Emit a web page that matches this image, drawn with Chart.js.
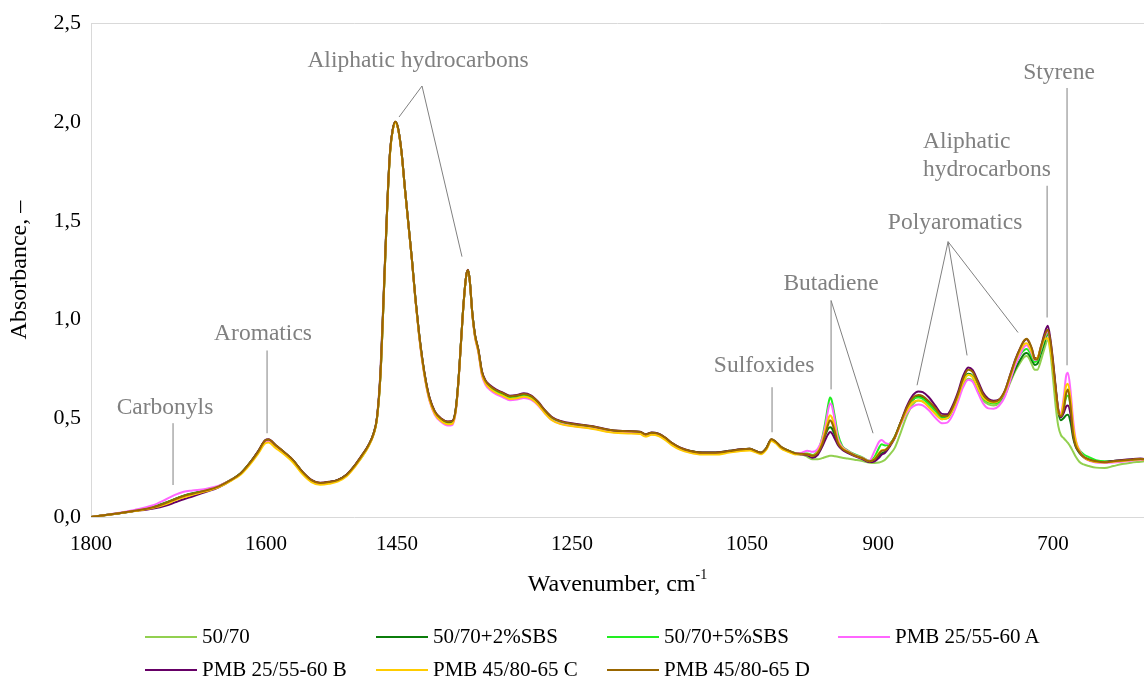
<!DOCTYPE html>
<html>
<head>
<meta charset="utf-8">
<script src="https://cdn.jsdelivr.net/npm/chart.js@4.4.0/dist/chart.umd.min.js"></script>
<style>
  html, body { margin: 0; padding: 0; background: #fff; }
  #wrap { position: relative; width: 1144px; height: 680px; font-family: "Liberation Serif", "Times New Roman", serif; color: #000; }
  #xTitle { position: absolute; left: 91px; width: 1053px; top: 569px; text-align: center; font-size: 24px; line-height: 28px; }
  #xTitle sup { font-size: 14px; line-height: 0; position: relative; top: -3px; }
  #legend { position: absolute; left: 145px; top: 620px; display: grid; grid-template-columns: repeat(4, 231px); }
  .item { display: flex; align-items: center; height: 33px; font-size: 21px; white-space: nowrap; }
  .swatch { width: 52px; height: 2px; margin-right: 5px; }
</style>
</head>
<body>
<div id="wrap">
  <canvas id="myChart" width="1144" height="680"></canvas>
  <div id="xTitle">Wavenumber, cm<sup>-1</sup></div>
  <div id="legend"></div>
</div>
<script>
// wavenumbers (cm-1), descending like the plot
const wavenumbers = [
  1800, 1775, 1750, 1730, 1714, 1704, 1694, 1684, 1669, 1654,
  1639, 1629, 1619, 1609, 1601, 1597, 1589, 1579, 1569, 1558,
  1548, 1538, 1528, 1518, 1508, 1498, 1490, 1483, 1477, 1473,
  1469, 1465, 1461, 1458, 1455, 1452, 1449, 1445, 1441, 1437,
  1433, 1429, 1425, 1421, 1417, 1413, 1407, 1400, 1392, 1387,
  1383, 1380, 1377, 1374, 1371, 1369, 1367, 1364, 1361, 1357,
  1353, 1349, 1344, 1337, 1329, 1321, 1313, 1305, 1297, 1289,
  1281, 1273, 1263, 1247, 1226, 1206, 1186, 1172, 1166, 1159,
  1151, 1144, 1136, 1126, 1116, 1101, 1086, 1070, 1057, 1047,
  1040, 1034, 1028, 1022, 1017, 1011, 1003, 995,
  987, 981, 975, 969, 964, 960, 957, 955, 953, 950,
  946, 941, 935, 927, 918, 910, 904, 899, 896, 892,
  887, 881, 874, 867, 860, 854, 849, 842, 834, 827,
  821, 815, 809, 803, 797, 792, 786, 780, 774, 768,
  762, 755, 749, 743, 737, 733, 730, 727, 724, 721,
  718, 714, 710, 706, 703, 700, 697, 694, 691, 688,
  685, 683, 680, 677, 674, 670, 665, 659, 651, 641,
  631, 621, 611, 600, 596
];

const bitumen5070 = [
  0, 0.015, 0.032, 0.048, 0.072, 0.090, 0.106, 0.118, 0.134, 0.155,
  0.190, 0.220, 0.270, 0.330, 0.385, 0.390, 0.362, 0.326, 0.286, 0.226,
  0.186, 0.171, 0.176, 0.186, 0.212, 0.262, 0.312, 0.360, 0.420, 0.500,
  0.720, 1.150, 1.600, 1.850, 1.960, 2.000, 1.970, 1.850, 1.660, 1.480,
  1.300, 1.100, 0.930, 0.790, 0.680, 0.600, 0.530, 0.495, 0.478, 0.480,
  0.540, 0.680, 0.880, 1.080, 1.220, 1.250, 1.200, 1.030, 0.920, 0.840,
  0.730, 0.685, 0.660, 0.638, 0.622, 0.606, 0.610, 0.618, 0.608, 0.578,
  0.535, 0.500, 0.480, 0.467, 0.455, 0.437, 0.431, 0.428, 0.415, 0.424,
  0.418, 0.400, 0.372, 0.347, 0.333, 0.323, 0.323, 0.332, 0.340, 0.343,
  0.332, 0.323, 0.345, 0.388, 0.376, 0.350, 0.333, 0.320,
  0.316, 0.305, 0.292, 0.292, 0.298, 0.304, 0.308, 0.310, 0.310, 0.308,
  0.305, 0.300, 0.296, 0.290, 0.283, 0.275, 0.274, 0.276, 0.280, 0.290,
  0.315, 0.350, 0.430, 0.515, 0.572, 0.590, 0.585, 0.560, 0.520, 0.495,
  0.500, 0.540, 0.600, 0.670, 0.700, 0.690, 0.640, 0.590, 0.570, 0.565,
  0.575, 0.615, 0.680, 0.740, 0.785, 0.810, 0.815, 0.800, 0.770, 0.745,
  0.745, 0.790, 0.850, 0.895, 0.830, 0.700, 0.560, 0.460, 0.415, 0.400,
  0.385, 0.375, 0.355, 0.330, 0.305, 0.280, 0.266, 0.258, 0.250, 0.248,
  0.258, 0.268, 0.275, 0.280, 0.282
];

const sbs2 = [
  0, 0.015, 0.032, 0.049, 0.074, 0.092, 0.108, 0.120, 0.135, 0.155,
  0.190, 0.220, 0.270, 0.330, 0.385, 0.390, 0.362, 0.326, 0.286, 0.226,
  0.186, 0.171, 0.176, 0.186, 0.212, 0.262, 0.312, 0.360, 0.420, 0.500,
  0.720, 1.150, 1.600, 1.850, 1.960, 2.000, 1.970, 1.850, 1.660, 1.480,
  1.300, 1.101, 0.932, 0.792, 0.682, 0.602, 0.532, 0.497, 0.480, 0.482,
  0.540, 0.680, 0.880, 1.080, 1.220, 1.250, 1.200, 1.030, 0.920, 0.840,
  0.733, 0.688, 0.663, 0.641, 0.625, 0.609, 0.613, 0.621, 0.611, 0.580,
  0.538, 0.503, 0.483, 0.469, 0.457, 0.439, 0.433, 0.430, 0.417, 0.426,
  0.420, 0.402, 0.374, 0.349, 0.335, 0.326, 0.326, 0.335, 0.342, 0.345,
  0.334, 0.326, 0.348, 0.392, 0.380, 0.354, 0.337, 0.323,
  0.320, 0.318, 0.308, 0.325, 0.370, 0.420, 0.448, 0.455, 0.450, 0.420,
  0.375, 0.345, 0.330, 0.312, 0.298, 0.282, 0.290, 0.310, 0.322, 0.332,
  0.360, 0.405, 0.480, 0.548, 0.595, 0.610, 0.605, 0.580, 0.540, 0.505,
  0.505, 0.545, 0.610, 0.690, 0.725, 0.715, 0.660, 0.610, 0.585, 0.578,
  0.585, 0.625, 0.690, 0.750, 0.800, 0.825, 0.830, 0.818, 0.792, 0.770,
  0.775, 0.825, 0.880, 0.925, 0.870, 0.760, 0.640, 0.530, 0.490, 0.500,
  0.515, 0.518, 0.480, 0.400, 0.355, 0.325, 0.305, 0.292, 0.282, 0.278,
  0.282, 0.285, 0.288, 0.292, 0.290
];

const sbs5 = [
  0, 0.015, 0.032, 0.048, 0.072, 0.090, 0.106, 0.118, 0.134, 0.155,
  0.190, 0.220, 0.270, 0.330, 0.385, 0.390, 0.362, 0.326, 0.286, 0.226,
  0.186, 0.171, 0.176, 0.186, 0.212, 0.262, 0.305, 0.358, 0.420, 0.500,
  0.720, 1.150, 1.600, 1.850, 1.960, 2.000, 1.970, 1.850, 1.660, 1.480,
  1.300, 1.100, 0.928, 0.787, 0.677, 0.596, 0.526, 0.490, 0.472, 0.474,
  0.540, 0.680, 0.880, 1.080, 1.220, 1.250, 1.200, 1.030, 0.920, 0.840,
  0.727, 0.681, 0.655, 0.633, 0.617, 0.601, 0.605, 0.613, 0.603, 0.574,
  0.532, 0.497, 0.477, 0.464, 0.452, 0.435, 0.429, 0.426, 0.413, 0.422,
  0.418, 0.400, 0.372, 0.347, 0.333, 0.323, 0.323, 0.332, 0.340, 0.343,
  0.332, 0.323, 0.345, 0.390, 0.378, 0.353, 0.336, 0.324,
  0.322, 0.322, 0.314, 0.335, 0.400, 0.490, 0.570, 0.605, 0.590, 0.520,
  0.420, 0.360, 0.338, 0.318, 0.302, 0.285, 0.305, 0.350, 0.368, 0.362,
  0.370, 0.405, 0.480, 0.548, 0.598, 0.605, 0.598, 0.572, 0.535, 0.500,
  0.500, 0.540, 0.605, 0.685, 0.720, 0.710, 0.652, 0.602, 0.580, 0.575,
  0.585, 0.630, 0.705, 0.775, 0.825, 0.845, 0.850, 0.835, 0.808, 0.785,
  0.790, 0.840, 0.895, 0.930, 0.875, 0.770, 0.650, 0.545, 0.515, 0.550,
  0.605, 0.615, 0.560, 0.440, 0.375, 0.340, 0.318, 0.303, 0.288, 0.282,
  0.284, 0.287, 0.290, 0.294, 0.292
];

const pmbA = [
  0, 0.016, 0.036, 0.058, 0.090, 0.112, 0.128, 0.134, 0.142, 0.158,
  0.190, 0.218, 0.266, 0.324, 0.378, 0.383, 0.356, 0.320, 0.280, 0.221,
  0.182, 0.168, 0.173, 0.183, 0.209, 0.258, 0.308, 0.357, 0.418, 0.500,
  0.720, 1.150, 1.600, 1.850, 1.960, 2.000, 1.970, 1.850, 1.660, 1.480,
  1.296, 1.094, 0.922, 0.780, 0.670, 0.588, 0.518, 0.482, 0.463, 0.466,
  0.530, 0.672, 0.875, 1.078, 1.220, 1.250, 1.198, 1.026, 0.912, 0.830,
  0.716, 0.670, 0.644, 0.622, 0.606, 0.591, 0.595, 0.603, 0.594, 0.566,
  0.525, 0.491, 0.472, 0.460, 0.448, 0.431, 0.425, 0.422, 0.409, 0.418,
  0.414, 0.396, 0.368, 0.343, 0.329, 0.319, 0.319, 0.329, 0.337, 0.340,
  0.330, 0.321, 0.343, 0.388, 0.376, 0.350, 0.334, 0.323,
  0.326, 0.336, 0.330, 0.345, 0.395, 0.470, 0.545, 0.575, 0.565, 0.500,
  0.400, 0.355, 0.335, 0.315, 0.300, 0.285, 0.335, 0.380, 0.390, 0.375,
  0.370, 0.400, 0.470, 0.530, 0.560, 0.570, 0.565, 0.540, 0.500, 0.475,
  0.478, 0.515, 0.580, 0.655, 0.695, 0.685, 0.630, 0.575, 0.550, 0.548,
  0.562, 0.610, 0.690, 0.770, 0.830, 0.862, 0.870, 0.852, 0.822, 0.795,
  0.800, 0.850, 0.905, 0.940, 0.880, 0.770, 0.650, 0.550, 0.525, 0.600,
  0.715, 0.730, 0.640, 0.490, 0.390, 0.340, 0.305, 0.285, 0.276, 0.274,
  0.276, 0.280, 0.285, 0.290, 0.288
];

const pmbB = [
  0, 0.014, 0.030, 0.042, 0.058, 0.074, 0.090, 0.104, 0.126, 0.150,
  0.188, 0.220, 0.270, 0.332, 0.388, 0.393, 0.365, 0.328, 0.288, 0.228,
  0.188, 0.173, 0.178, 0.188, 0.214, 0.264, 0.314, 0.362, 0.422, 0.505,
  0.740, 1.170, 1.610, 1.855, 1.962, 2.000, 1.968, 1.848, 1.658, 1.478,
  1.302, 1.104, 0.935, 0.796, 0.686, 0.606, 0.536, 0.500, 0.484, 0.486,
  0.545, 0.684, 0.884, 1.082, 1.222, 1.252, 1.202, 1.034, 0.925, 0.846,
  0.738, 0.693, 0.668, 0.646, 0.630, 0.614, 0.618, 0.626, 0.616, 0.585,
  0.541, 0.506, 0.486, 0.472, 0.460, 0.441, 0.435, 0.432, 0.419, 0.428,
  0.422, 0.404, 0.376, 0.351, 0.336, 0.326, 0.326, 0.335, 0.343, 0.346,
  0.334, 0.325, 0.347, 0.392, 0.380, 0.354, 0.336, 0.321,
  0.316, 0.312, 0.300, 0.315, 0.355, 0.395, 0.420, 0.430, 0.425, 0.400,
  0.365, 0.340, 0.325, 0.308, 0.293, 0.278, 0.282, 0.300, 0.315, 0.325,
  0.355, 0.400, 0.482, 0.562, 0.618, 0.636, 0.632, 0.606, 0.560, 0.522,
  0.520, 0.562, 0.628, 0.712, 0.757, 0.745, 0.690, 0.630, 0.598, 0.588,
  0.594, 0.640, 0.720, 0.800, 0.860, 0.892, 0.900, 0.880, 0.848, 0.805,
  0.805, 0.860, 0.925, 0.968, 0.900, 0.790, 0.660, 0.540, 0.505, 0.525,
  0.560, 0.565, 0.520, 0.420, 0.360, 0.330, 0.302, 0.288, 0.280, 0.279,
  0.284, 0.289, 0.293, 0.296, 0.294
];

const pmbC = [
  0, 0.014, 0.030, 0.045, 0.066, 0.084, 0.100, 0.113, 0.130, 0.152,
  0.186, 0.214, 0.262, 0.320, 0.372, 0.377, 0.350, 0.316, 0.276, 0.216,
  0.177, 0.163, 0.168, 0.179, 0.205, 0.255, 0.305, 0.354, 0.415, 0.495,
  0.715, 1.145, 1.595, 1.845, 1.955, 1.995, 1.965, 1.845, 1.655, 1.476,
  1.298, 1.096, 0.925, 0.784, 0.674, 0.593, 0.523, 0.487, 0.469, 0.472,
  0.534, 0.675, 0.877, 1.078, 1.218, 1.248, 1.198, 1.027, 0.915, 0.834,
  0.722, 0.677, 0.651, 0.629, 0.613, 0.597, 0.601, 0.609, 0.599, 0.569,
  0.525, 0.490, 0.470, 0.458, 0.446, 0.429, 0.423, 0.420, 0.407, 0.416,
  0.410, 0.392, 0.364, 0.340, 0.326, 0.316, 0.316, 0.326, 0.334, 0.337,
  0.327, 0.318, 0.340, 0.385, 0.373, 0.347, 0.330, 0.317,
  0.318, 0.318, 0.310, 0.330, 0.380, 0.445, 0.495, 0.515, 0.505, 0.460,
  0.385, 0.350, 0.332, 0.312, 0.298, 0.282, 0.295, 0.325, 0.338, 0.340,
  0.362, 0.402, 0.475, 0.540, 0.582, 0.590, 0.584, 0.556, 0.520, 0.495,
  0.500, 0.540, 0.605, 0.680, 0.720, 0.710, 0.655, 0.605, 0.585, 0.580,
  0.590, 0.635, 0.710, 0.790, 0.848, 0.875, 0.880, 0.862, 0.832, 0.800,
  0.805, 0.855, 0.900, 0.905, 0.850, 0.750, 0.630, 0.530, 0.515, 0.580,
  0.665, 0.675, 0.600, 0.460, 0.385, 0.335, 0.303, 0.288, 0.278, 0.276,
  0.280, 0.284, 0.288, 0.292, 0.290
];

const pmbD = [
  0, 0.015, 0.032, 0.048, 0.072, 0.090, 0.106, 0.118, 0.134, 0.155,
  0.190, 0.220, 0.270, 0.330, 0.387, 0.392, 0.364, 0.328, 0.288, 0.227,
  0.187, 0.172, 0.177, 0.187, 0.213, 0.263, 0.313, 0.361, 0.421, 0.502,
  0.725, 1.155, 1.603, 1.852, 1.961, 2.002, 1.971, 1.851, 1.661, 1.481,
  1.302, 1.103, 0.934, 0.794, 0.684, 0.604, 0.534, 0.499, 0.482, 0.484,
  0.543, 0.683, 0.882, 1.081, 1.221, 1.251, 1.201, 1.033, 0.924, 0.845,
  0.735, 0.690, 0.665, 0.643, 0.627, 0.611, 0.615, 0.623, 0.613, 0.582,
  0.539, 0.504, 0.484, 0.470, 0.458, 0.440, 0.434, 0.431, 0.418, 0.427,
  0.421, 0.403, 0.375, 0.350, 0.335, 0.325, 0.325, 0.334, 0.342, 0.345,
  0.334, 0.325, 0.347, 0.393, 0.381, 0.355, 0.337, 0.323,
  0.320, 0.318, 0.310, 0.325, 0.368, 0.425, 0.470, 0.490, 0.480, 0.440,
  0.375, 0.345, 0.330, 0.312, 0.298, 0.282, 0.292, 0.320, 0.335, 0.338,
  0.362, 0.405, 0.482, 0.555, 0.605, 0.618, 0.612, 0.586, 0.548, 0.512,
  0.512, 0.552, 0.618, 0.698, 0.745, 0.735, 0.680, 0.620, 0.592, 0.584,
  0.592, 0.640, 0.718, 0.795, 0.860, 0.894, 0.903, 0.884, 0.850, 0.800,
  0.798, 0.860, 0.915, 0.948, 0.890, 0.780, 0.650, 0.540, 0.510, 0.540,
  0.625, 0.645, 0.560, 0.420, 0.360, 0.330, 0.305, 0.292, 0.282, 0.277,
  0.282, 0.286, 0.290, 0.294, 0.292
];

const seriesNames = ["50/70", "50/70+2%SBS", "50/70+5%SBS", "PMB 25/55-60 A", "PMB 25/55-60 B", "PMB 45/80-65 C", "PMB 45/80-65 D"];
const seriesValues = [bitumen5070, sbs2, sbs5, pmbA, pmbB, pmbC, pmbD];
const colors = ["#92d050", "#0b7d0b", "#22ee22", "#ff66ff", "#660066", "#ffcc00", "#996600"];
const xTickValues = [1800, 1600, 1450, 1250, 1050, 900, 700];

// peak labels, placed in data units (wavenumber, absorbance)
const annotations = [
  { lines: ["Carbonyls"], at: [1715.4, 0.551], align: "center", leaders: [[[1706.2, 0.475], [1706.2, 0.162]]] },
  { lines: ["Aromatics"], at: [1603.3, 0.929], align: "center", leaders: [[[1598.7, 0.843], [1598.7, 0.424]]] },
  { lines: ["Aliphatic hydrocarbons"], at: [1426.1, 2.308], align: "center",
    leaders: [[[1447.8, 2.025], [1421.5, 2.182], [1375.8, 1.318]]] },
  { lines: ["Sulfoxides"], at: [1030.4, 0.763], align: "center", leaders: [[[1021.3, 0.657], [1021.3, 0.429]]] },
  { lines: ["Butadiene"], at: [953.8, 1.182], align: "center",
    leaders: [[[953.8, 0.646], [953.8, 1.096], [905.8, 0.424]]] },
  { lines: ["Polyaromatics"], at: [812, 1.49], align: "center",
    leaders: [[[820, 1.394], [855.5, 0.667]], [[820, 1.394], [798.3, 0.818]], [[820, 1.394], [740, 0.934]]] },
  { lines: ["Aliphatic", "hydrocarbons"], at: [848.6, 1.899], align: "left", leaders: [[[706.8, 1.677], [706.8, 1.010]]] },
  { lines: ["Styrene"], at: [693.1, 2.247], align: "center", leaders: [[[684, 2.172], [684, 0.768]]] }
];

seriesValues.forEach((s, i) => {
  if (s.length !== wavenumbers.length) console.log('length mismatch', seriesNames[i], s.length);
});

const font = { family: '"Liberation Serif", "Times New Roman", serif', size: 21 };

const overlay = {
  id: 'overlay',
  afterDraw(chart) {
    const { ctx, chartArea, scales: { x, y } } = chart;
    ctx.save();
    // top edge of plot area
    ctx.strokeStyle = '#d9d9d9';
    ctx.lineWidth = 1;
    ctx.beginPath();
    ctx.moveTo(chartArea.left, Math.round(chartArea.top) + 0.5);
    ctx.lineTo(chartArea.right, Math.round(chartArea.top) + 0.5);
    ctx.stroke();

    // annotations
    ctx.strokeStyle = '#808080';
    ctx.fillStyle = '#808080';
    ctx.font = '23.5px "Liberation Serif", "Times New Roman", serif';
    ctx.textBaseline = 'middle';
    annotations.forEach(a => {
      ctx.beginPath();
      a.leaders.forEach(pts => {
        pts.forEach((p, k) => {
          const px = x.getPixelForValue(p[0]), py = y.getPixelForValue(p[1]);
          if (k === 0) ctx.moveTo(px, py); else ctx.lineTo(px, py);
        });
      });
      ctx.stroke();
      ctx.textAlign = a.align;
      const tx = x.getPixelForValue(a.at[0]);
      const ty = y.getPixelForValue(a.at[1]);
      a.lines.forEach((t, k) => ctx.fillText(t, tx, ty + k * 28));
    });

    // y axis title
    ctx.fillStyle = '#000';
    ctx.textAlign = 'center';
    ctx.font = '24px "Liberation Serif", "Times New Roman", serif';
    ctx.translate(20, (chartArea.top + chartArea.bottom) / 2);
    ctx.rotate(-Math.PI / 2);
    ctx.fillText('Absorbance, \u2013', 0, 0);
    ctx.restore();
  }
};

let ctx = document.getElementById('myChart').getContext('2d');
let myChart = new Chart(ctx, {
  type: 'line',
  data: {
    datasets: seriesNames.map((name, i) => ({
      label: name,
      data: wavenumbers.map((w, j) => ({ x: w, y: seriesValues[i][j] })),
      borderColor: colors[i],
      backgroundColor: colors[i],
      borderWidth: 2,
      pointRadius: 0,
      fill: false,
      cubicInterpolationMode: 'monotone',
      order: seriesNames.length - i
    }))
  },
  options: {
    responsive: false,
    animation: false,
    devicePixelRatio: 1,
    layout: { padding: { top: 22, left: 0, right: 0, bottom: 0 } },
    plugins: { legend: { display: false }, tooltip: { enabled: false } },
    scales: {
      x: {
        type: 'linear',
        reverse: true,
        min: 596,
        max: 1800,
        grid: { display: false, drawTicks: false },
        border: { color: '#d9d9d9' },
        ticks: { font: font, color: '#000', padding: 15, autoSkip: false, maxRotation: 0, callback: v => String(v) },
        afterBuildTicks: s => { s.ticks = xTickValues.map(v => ({ value: v })); },
        afterFit: s => { s.height = 163; }
      },
      y: {
        min: 0,
        max: 2.5,
        grid: { display: false, drawTicks: false },
        border: { color: '#d9d9d9' },
        ticks: { stepSize: 0.5, font: { family: font.family, size: 22 }, color: '#000', padding: 10, callback: v => v.toFixed(1).replace('.', ',') },
        afterFit: s => { s.width = 91; }
      }
    }
  },
  plugins: [overlay]
});

// legend, laid out like the original (4 columns)
let legend = document.getElementById('legend');
seriesNames.forEach((name, i) => {
  let item = document.createElement('div');
  item.className = 'item';
  item.innerHTML = '<span class="swatch" style="background:' + colors[i] + '"></span>' + name;
  legend.appendChild(item);
});
</script>
</body>
</html>
